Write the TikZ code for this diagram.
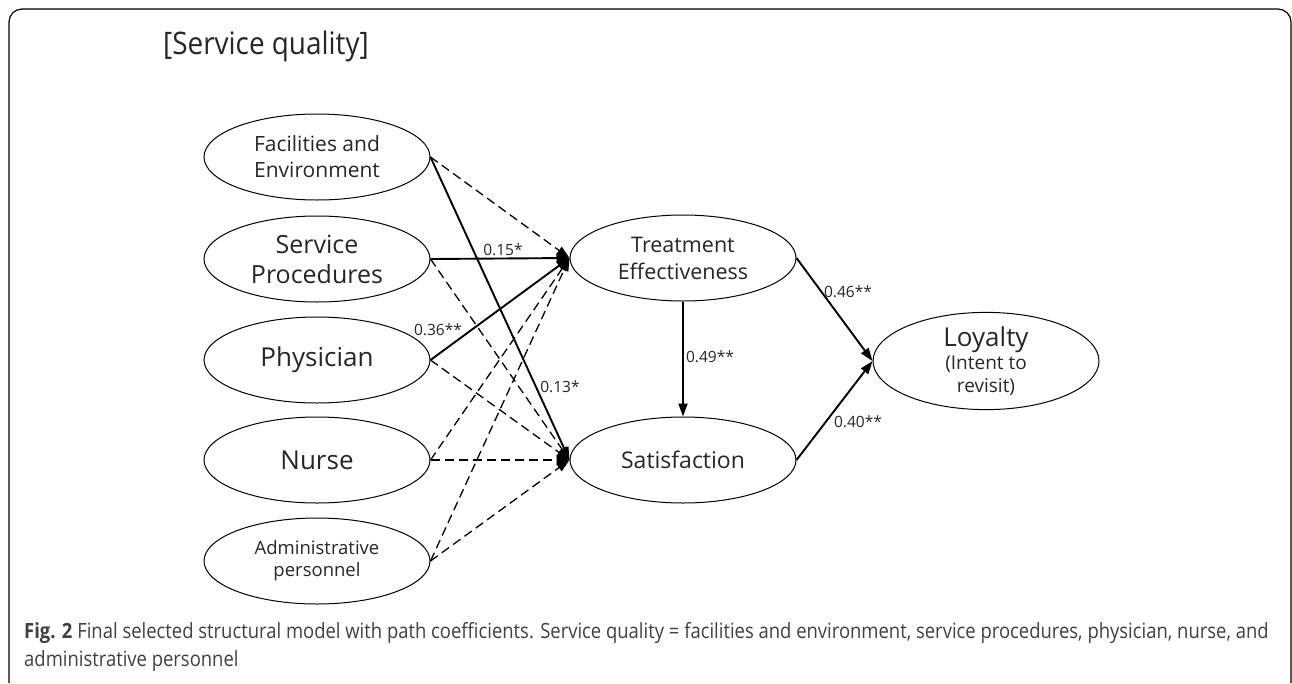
\documentclass[tikz,border=0pt]{standalone}
\usepackage{fontspec}
\setmainfont{Open Sans}
\usetikzlibrary{arrows.meta,shapes.geometric}
\begin{document}
\begin{tikzpicture}[x=1pt,y=-1pt,
  latent/.style={ellipse,draw,line width=1pt,minimum width=226pt,minimum height=86pt,inner sep=0pt,align=center,text=black!85},
  sig/.style={line width=1.9pt,-{Triangle[length=13pt,width=9pt]}},
  ns/.style={line width=1.3pt,dash pattern=on 9pt off 5pt,-{Triangle[length=13pt,width=9pt]}},
  coef/.style={font=\fontsize{15.5}{18}\selectfont,text=black!85,inner sep=0pt},
  captext/.style={anchor=base west,inner sep=0pt,font=\fontsize{21}{25}\selectfont,text=black!75}]
\useasboundingbox (0,0) rectangle (1292,683);
\draw[line width=1.2pt,rounded corners=13pt] (9,683) -- (9,9) -- (1291,9) -- (1291,683);
\node[font=\fontsize{31}{38}\selectfont,text=black!85] (title) at (266,46) {\scalebox{0.9}[1]{[Service quality]}};
\node[latent,font=\fontsize{21}{26}\selectfont] (fac) at (317,157) {Facilities and\\Environment};
\node[latent,font=\fontsize{25}{30}\selectfont] (sp) at (317,259) {Service\\Procedures};
\node[latent,font=\fontsize{26}{30}\selectfont] (phy) at (317,360) {Physician};
\node[latent,font=\fontsize{26}{30}\selectfont] (nur) at (317,460) {Nurse};
\node[latent,font=\fontsize{18.5}{22}\selectfont] (adm) at (317,561) {Administrative\\personnel};
\node[latent,font=\fontsize{21.5}{27}\selectfont] (te) at (683,258) {Treatment\\Effectiveness};
\node[latent,font=\fontsize{23}{28}\selectfont] (sat) at (683,460) {Satisfaction};
\node[latent,font=\fontsize{19}{23}\selectfont] (loy) at (986,361) {\fontsize{26}{28}\selectfont Loyalty\\\fontsize{19}{23}\selectfont (Intent to\\revisit)};
\draw[ns] (fac.east) -- (te.west);
\draw[ns] (sp.east) -- (sat.west);
\draw[ns] (phy.east) -- (sat.west);
\draw[ns] (nur.east) -- (te.west);
\draw[ns] (nur.east) -- (sat.west);
\draw[ns] (adm.east) -- (te.west);
\draw[ns] (adm.east) -- (sat.west);
\draw[sig] (fac.east) -- (sat.west);
\draw[sig] (sp.east) -- (te.west);
\draw[sig] (phy.east) -- (te.west);
\draw[sig] (te.south) -- (sat.north);
\draw[sig] (te.east) -- (loy.west);
\draw[sig] (sat.east) -- (loy.west);
\node[coef] (c1) at (503,250) {0.15*};
\node[coef] (c2) at (438,330) {0.36**};
\node[coef] (c3) at (560,387) {0.13*};
\node[coef] (c4) at (710,357) {0.49**};
\node[coef] (c5) at (848,292) {0.46**};
\node[coef] (c6) at (858,422) {0.40**};
\node[captext] (cap1) at (24,638) {\scalebox{0.878}[1]{\textbf{Fig. 2} Final selected structural model with path coefficients. Service quality = facilities and environment, service procedures, physician, nurse, and}};
\node[captext] (cap2) at (24,666) {\scalebox{0.878}[1]{administrative personnel}};
\end{tikzpicture}
\end{document}
